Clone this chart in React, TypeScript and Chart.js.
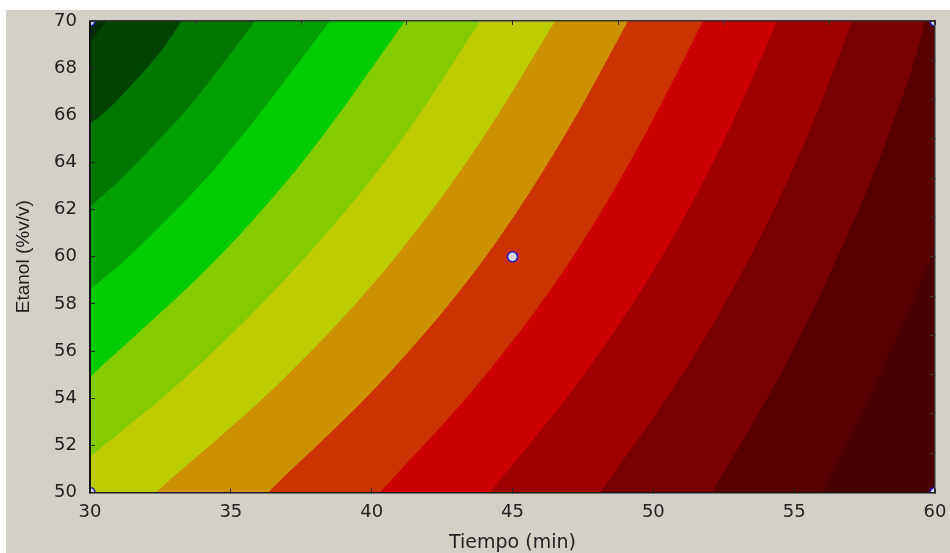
import React, { useEffect, useRef } from 'react';
import { Chart, registerables } from 'chart.js';

Chart.register(...registerables);

// Axes
const X_MIN = 30;
const X_MAX = 60;
const Y_MIN = 50;
const Y_MAX = 70;
const X_STEP = 5;
const Y_STEP = 2;
const X_TITLE = 'Tiempo (min)';
const Y_TITLE = 'Etanol (%v/v)';

// Contour band colours, from the upper-left band to the lower-right band
const bandColors = [
  '#002e00', '#004400', '#007800', '#00a000', '#00cc00', '#84cc00', '#bccc00',
  '#cc9000', '#cc3300', '#cc0000', '#a00000', '#780000', '#580000', '#480000',
];

// Contour boundaries [tiempo, etanol], each separating band k-1 (left) from band k (right)
const boundary1: [number, number][] = [[30, 69.1], [30.6, 70]];
const boundary2: [number, number][] = [[30, 65.66], [30.41, 66.0], [31.54, 67.37], [32.55, 68.77], [33.25, 70]];
const boundary3: [number, number][] = [[30, 62.12], [31.07, 63.27], [32.44, 64.95], [33.43, 66.24], [34.38, 67.66], [35.86, 70]];
const boundary4: [number, number][] = [[30, 58.6], [31.37, 60.0], [34.08, 63.27], [35.28, 64.95], [38.52, 70]];
const boundary5: [number, number][] = [[30, 54.9], [34.57, 60.0], [37.03, 63.27], [38.15, 64.95], [41.18, 70]];
const boundary6: [number, number][] = [[30, 51.51], [33.5, 54.99], [37.66, 60.0], [41.05, 64.95], [43.85, 70]];
const boundary7: [number, number][] = [[32.34, 50], [37.02, 54.99], [40.86, 60.0], [43.9, 64.95], [46.51, 70]];
const boundary8: [number, number][] = [[36.32, 50], [40.57, 54.99], [44.05, 60.0], [46.76, 64.95], [49.1, 70]];
const boundary9: [number, number][] = [[40.3, 50], [44.05, 54.99], [47.15, 60.0], [49.6, 64.95], [51.76, 70]];
const boundary10: [number, number][] = [[44.2, 50], [47.53, 54.99], [50.3, 60.0], [52.51, 64.95], [54.39, 70]];
const boundary11: [number, number][] = [[48.11, 50], [51.02, 54.99], [53.44, 60.0], [55.41, 64.95], [57.05, 70]];
const boundary12: [number, number][] = [[52.08, 50], [54.5, 54.99], [56.54, 60.0], [58.28, 64.95], [59.64, 70]];
const boundary13: [number, number][] = [[56.02, 50], [58.05, 54.99], [59.88, 60.0], [60, 60.36]];

const boundaries = [
  boundary1, boundary2, boundary3, boundary4, boundary5, boundary6, boundary7,
  boundary8, boundary9, boundary10, boundary11, boundary12, boundary13,
];

// Experimental design points
const designX = [30, 30, 60, 60, 45];
const designY = [50, 70, 50, 70, 60];

export default function App() {
  const ref = useRef<HTMLCanvasElement>(null);

  useEffect(() => {
    document.body.style.margin = '0';
    const canvas = ref.current;
    if (!canvas) return;

    const datasets: any[] = [];

    datasets.push({
      type: 'line',
      data: designX.map((x, i) => ({ x, y: designY[i] })),
      showLine: false,
      borderWidth: 0,
      pointRadius: 5,
      pointHoverRadius: 5,
      pointStyle: 'circle',
      pointBackgroundColor: '#d6d6e6',
      pointBorderColor: '#1c1cc8',
      pointBorderWidth: 1.5,
      clip: 0,
      order: 0,
      xAxisID: 'x',
      yAxisID: 'y',
    });

    // Band 0 covers the whole area; band k lies right of boundary k.
    const bandData: { x: number; y: number }[][] = [];
    bandData.push([{ x: X_MIN, y: Y_MAX }, { x: X_MAX, y: Y_MAX }]);
    boundaries.forEach((b) => {
      const pts = b.map(([x, y]) => ({ x, y }));
      const n = pts.length;
      const last = pts[n - 1];
      if (last.y >= Y_MAX && last.x < X_MAX) {
        // continue the edge of the fill beyond the top of the plot (hidden by clipping)
        const prev = pts[n - 2];
        const slope = (last.y - prev.y) / (last.x - prev.x);
        pts.push({ x: X_MAX, y: last.y + slope * (X_MAX - last.x) + 1 });
      }
      bandData.push(pts);
    });

    bandData.forEach((data, k) => {
      datasets.push({
        type: 'line',
        data,
        backgroundColor: bandColors[k],
        borderColor: 'rgba(0,0,0,0)',
        borderWidth: 0,
        pointRadius: 0,
        pointHoverRadius: 0,
        cubicInterpolationMode: 'monotone',
        fill: 'start',
        order: 100 - k,
        xAxisID: 'x',
        yAxisID: 'y',
      });
    });

    const tickFont = { family: 'DejaVu Sans', size: 18, lineHeight: 1.2 };

    const chart = new Chart(canvas, {
      type: 'line',
      data: { datasets },
      options: {
        responsive: false,
        animation: false,
        devicePixelRatio: 1,
        events: [],
        layout: { autoPadding: false, padding: { top: 11, right: 15, left: 0, bottom: 0 } },
        plugins: { legend: { display: false }, tooltip: { enabled: false } },
        scales: {
          x: {
            type: 'linear',
            position: 'bottom',
            min: X_MIN,
            max: X_MAX,
            ticks: { z: 1, stepSize: X_STEP, font: tickFont, color: '#222', padding: 13, maxRotation: 0, autoSkip: false },
            grid: { z: 1, drawOnChartArea: false, drawTicks: true, tickLength: -4, tickColor: '#222', tickWidth: 1 },
            border: { z: 2, display: true, color: '#1a1a1a', width: 1.5 },
            title: {
              display: true,
              text: X_TITLE,
              color: '#222',
              font: { family: 'DejaVu Sans', size: 19, lineHeight: 1 },
              padding: { top: 0, bottom: 0 },
            },
            afterFit: (s: any) => {
              s.height = 60.5;
              s.paddingLeft = 0;
              s.paddingRight = 0;
            },
          },
          y: {
            type: 'linear',
            position: 'left',
            min: Y_MIN,
            max: Y_MAX,
            ticks: { z: 1, stepSize: Y_STEP, font: tickFont, color: '#222', padding: 18 },
            grid: { z: 1, drawOnChartArea: false, drawTicks: true, tickLength: -5, tickColor: '#222', tickWidth: 1 },
            border: { z: 2, display: true, color: '#111', width: 2 },
            title: {
              display: true,
              text: Y_TITLE,
              color: '#222',
              font: { family: 'Liberation Sans', size: 19, lineHeight: 1.2 },
              padding: { top: 6, bottom: 0 },
            },
            afterFit: (s: any) => {
              s.width = 84;
              s.paddingTop = 0;
              s.paddingBottom = 0;
            },
          },
          x2: {
            type: 'linear',
            position: 'top',
            min: X_MIN,
            max: X_MAX,
            ticks: { z: 1, display: false, count: 9 },
            grid: { z: 1, drawOnChartArea: false, drawTicks: true, tickLength: -4, tickColor: '#333', tickWidth: 1 },
            border: { z: 2, display: true, color: '#333', width: 1.5 },
            afterFit: (s: any) => {
              s.height = 0;
              s.paddingLeft = 0;
              s.paddingRight = 0;
            },
          },
          y2: {
            type: 'linear',
            position: 'right',
            min: Y_MIN,
            max: Y_MAX,
            ticks: { z: 1, display: false, count: 13 },
            grid: { z: 1, drawOnChartArea: false, drawTicks: true, tickLength: -5, tickColor: '#333', tickWidth: 1 },
            border: { z: 2, display: true, color: '#333', width: 1.5 },
            afterFit: (s: any) => {
              s.width = 0;
              s.paddingTop = 0;
              s.paddingBottom = 0;
            },
          },
        },
      } as any,
    });

    return () => chart.destroy();
  }, []);

  return (
    <div style={{ position: 'relative', width: 950, height: 553, background: '#ffffff' }}>
      <canvas
        ref={ref}
        width={944}
        height={543}
        style={{ position: 'absolute', left: 6, top: 10, width: 944, height: 543, background: '#D4D0C8' }}
      />
    </div>
  );
}
